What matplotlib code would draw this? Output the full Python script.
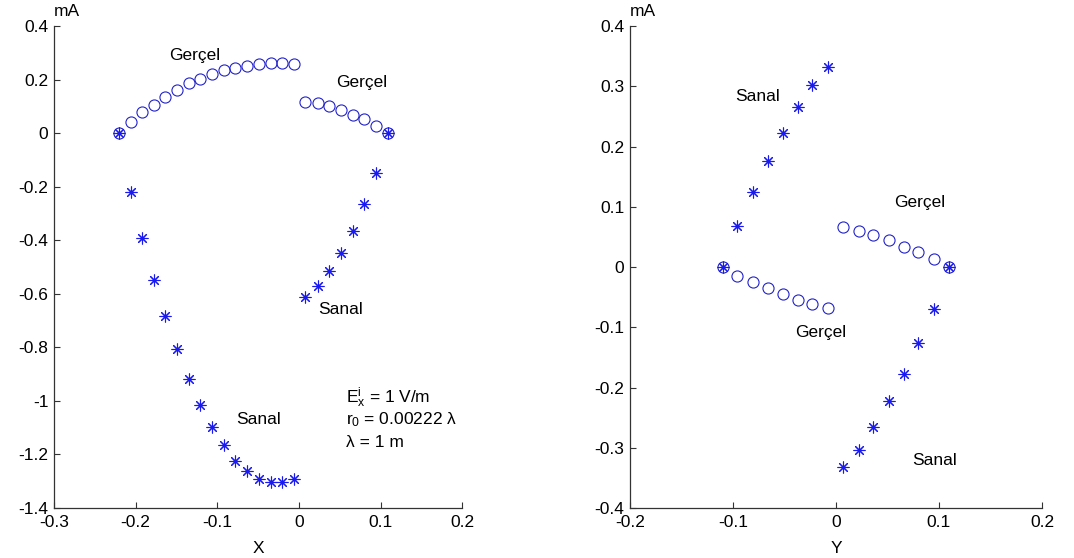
import matplotlib
matplotlib.use('Agg')
import matplotlib.pyplot as plt

plt.rcParams['font.family'] = ['Liberation Sans', 'DejaVu Sans']
plt.rcParams['mathtext.fontset'] = 'custom'
plt.rcParams['mathtext.rm'] = 'Liberation Sans'
plt.rcParams['mathtext.it'] = 'Liberation Sans'

# sol grafik: X ekseni boyunca akim (mA)
x_sol_1 = [-0.221, -0.206, -0.192, -0.178, -0.164, -0.149, -0.135, -0.121,
           -0.106, -0.092, -0.078, -0.064, -0.049, -0.034, -0.021, -0.006]
gercel_sol_1 = [0, 0.043, 0.077, 0.106, 0.135, 0.162, 0.186, 0.201,
                0.219, 0.235, 0.244, 0.250, 0.257, 0.260, 0.260, 0.257]
sanal_sol_1 = [0, -0.219, -0.393, -0.548, -0.684, -0.807, -0.920, -1.016,
               -1.098, -1.166, -1.224, -1.262, -1.291, -1.304, -1.304, -1.293]
x_sol_2 = [0.008, 0.023, 0.037, 0.052, 0.066, 0.080, 0.094, 0.109]
gercel_sol_2 = [0.118, 0.111, 0.101, 0.088, 0.069, 0.053, 0.026, 0]
sanal_sol_2 = [-0.611, -0.571, -0.516, -0.447, -0.364, -0.265, -0.150, 0]

# sag grafik: Y ekseni boyunca akim (mA)
y_sag_1 = [-0.110, -0.096, -0.081, -0.066, -0.051, -0.037, -0.023, -0.008]
gercel_sag_1 = [0, -0.015, -0.025, -0.035, -0.045, -0.054, -0.061, -0.068]
sanal_sag_1 = [0, 0.068, 0.125, 0.176, 0.222, 0.265, 0.302, 0.332]
y_sag_2 = [0.007, 0.022, 0.036, 0.051, 0.066, 0.080, 0.095, 0.110]
gercel_sag_2 = [0.066, 0.060, 0.053, 0.045, 0.034, 0.025, 0.014, 0]
sanal_sag_2 = [-0.332, -0.303, -0.266, -0.223, -0.177, -0.126, -0.070, 0]

xticks_sol = [-0.3, -0.2, -0.1, 0, 0.1, 0.2]
xticklabels_sol = ['-0.3', '-0.2', '-0.1', '0', '0.1', '0.2']
yticks_sol = [-1.4, -1.2, -1.0, -0.8, -0.6, -0.4, -0.2, 0, 0.2, 0.4]
yticklabels_sol = ['-1.4', '-1.2', '-1', '-0.8', '-0.6', '-0.4', '-0.2', '0', '0.2', '0.4']
xticks_sag = [-0.2, -0.1, 0, 0.1, 0.2]
xticklabels_sag = ['-0.2', '-0.1', '0', '0.1', '0.2']
yticks_sag = [-0.4, -0.3, -0.2, -0.1, 0, 0.1, 0.2, 0.3, 0.4]
yticklabels_sag = ['-0.4', '-0.3', '-0.2', '-0.1', '0', '0.1', '0.2', '0.3', '0.4']

fig = plt.figure(figsize=(10.74, 5.58), dpi=100)
ax1 = fig.add_axes([0.0503, 0.0896, 0.380, 0.8638])
ax2 = fig.add_axes([0.5866, 0.0896, 0.3836, 0.8638])

yildiz = (8, 2, 0)  # matlab '*' isareti
ms_o = 8
ms_y = 8.5
fs = 12.5

def stil(ax, xt, xtl, yt, ytl, xlab):
    ax.set_xlim(xt[0], xt[-1])
    ax.set_ylim(yt[0], yt[-1])
    ax.set_xticks(xt)
    ax.set_xticklabels(xtl)
    ax.set_yticks(yt)
    ax.set_yticklabels(ytl)
    ax.spines['top'].set_visible(False)
    ax.spines['right'].set_visible(False)
    for s in ['left', 'bottom']:
        ax.spines[s].set_color('#333333')
        ax.spines[s].set_linewidth(0.9)
    ax.tick_params(direction='in', length=4, width=0.8, labelsize=fs, colors='#333333', labelcolor='black')
    ax.tick_params(axis='x', pad=5)
    ax.tick_params(axis='y', pad=4)
    ax.set_xlabel(xlab, fontsize=fs, labelpad=8)
    ax.text(0, 1.03, 'mA', transform=ax.transAxes, ha='left', va='center', fontsize=fs)

for xs, g, s in [(x_sol_1, gercel_sol_1, sanal_sol_1), (x_sol_2, gercel_sol_2, sanal_sol_2)]:
    ax1.plot(xs, g, linestyle='none', marker='o', mfc='none', mec='#2222cc', ms=ms_o, mew=0.8)
    ax1.plot(xs, s, linestyle='none', marker=yildiz, color='#1a1aee', ms=ms_y, mew=0.8)
stil(ax1, xticks_sol, xticklabels_sol, yticks_sol, yticklabels_sol, 'X')

ax1.text(-0.159, 0.288, 'Gerçel', fontsize=fs, va='center')
ax1.text(0.0456, 0.188, 'Gerçel', fontsize=fs, va='center')
ax1.text(0.024, -0.660, 'Sanal', fontsize=fs, va='center')
ax1.text(-0.077, -1.069, 'Sanal', fontsize=fs, va='center')
ax1.text(0.0575, -0.989, r'$\mathregular{E_x^i}$ = 1 V/m', fontsize=fs, va='center')
ax1.text(0.0575, -1.071, r'$\mathregular{r_0}$ = 0.00222 λ', fontsize=fs, va='center')
ax1.text(0.0575, -1.157, 'λ = 1 m', fontsize=fs, va='center')

for ys, g, s in [(y_sag_1, gercel_sag_1, sanal_sag_1), (y_sag_2, gercel_sag_2, sanal_sag_2)]:
    ax2.plot(ys, g, linestyle='none', marker='o', mfc='none', mec='#2222cc', ms=ms_o, mew=0.8)
    ax2.plot(ys, s, linestyle='none', marker=yildiz, color='#1a1aee', ms=ms_y, mew=0.8)
stil(ax2, xticks_sag, xticklabels_sag, yticks_sag, yticklabels_sag, 'Y')

ax2.text(-0.0974, 0.283, 'Sanal', fontsize=fs, va='center')
ax2.text(0.0563, 0.107, 'Gerçel', fontsize=fs, va='center')
ax2.text(-0.0398, -0.108, 'Gerçel', fontsize=fs, va='center')
ax2.text(0.0735, -0.321, 'Sanal', fontsize=fs, va='center')

plt.savefig('out.png', dpi=100)
